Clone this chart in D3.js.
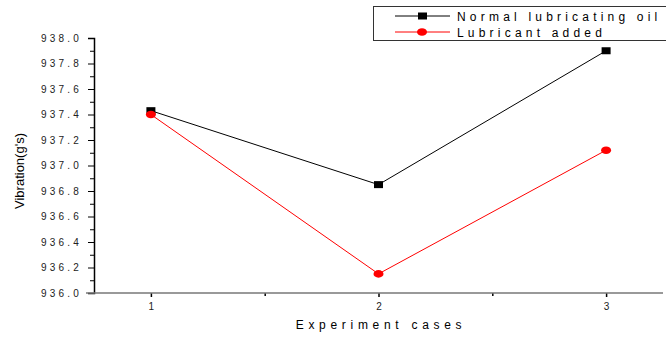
<!DOCTYPE html>
<html>
<head>
<meta charset="utf-8">
<script src="https://cdn.jsdelivr.net/npm/d3@7"></script>
<style>
  body { margin: 0; background: #fff; }
  text { font-family: "Liberation Sans", Arial, sans-serif; }
</style>
</head>
<body>
<div id="container"></div>
<script>
// data
const cases = [1, 2, 3];
const normalOil = [937.43, 936.85, 937.90];
const lubricantAdded = [937.40, 936.15, 937.12];
const yTicks = [936.0, 936.2, 936.4, 936.6, 936.8, 937.0, 937.2, 937.4, 937.6, 937.8, 938.0];
const seriesNames = ["Normal lubricating oil", "Lubricant added"];

const width = 666;
const height = 338;

const svg = d3
  .select("#container")
  .append("svg")
  .attr("width", width)
  .attr("height", height);

// scales
const xScale = d3.scaleLinear().domain([0.75, 3.25]).range([94, 663]);
const yScale = d3.scaleLinear().domain([936.0, 938.0]).range([293, 38]);

// y axis: major ticks with labels, minor ticks in between
const yAxis = d3
  .axisLeft(yScale)
  .tickValues(yTicks)
  .tickSize(6)
  .tickPadding(6)
  .tickFormat(d3.format(".1f"));

const yMinor = d3
  .axisLeft(yScale)
  .tickValues(d3.range(0, 20).map((i) => 936.1 + i * 0.2).filter((v) => v < 938))
  .tickSize(4)
  .tickFormat("");

const gy = svg.append("g").attr("transform", "translate(94,0)").call(yAxis);
gy.select(".domain").attr("stroke", "#000").attr("stroke-width", 1.5);
gy.selectAll(".tick line").attr("stroke", "#000");
gy.selectAll(".tick text")
  .attr("font-size", 10)
  .attr("letter-spacing", 3.2)
  .attr("fill", "#222");

const gyMinor = svg.append("g").attr("transform", "translate(94,0)").call(yMinor);
gyMinor.select(".domain").remove();

// x axis
const xAxis = d3
  .axisBottom(xScale)
  .tickValues(cases)
  .tickSize(4)
  .tickPadding(6)
  .tickFormat(d3.format("d"));

const xMinor = d3.axisBottom(xScale).tickValues([1.5, 2.5]).tickSize(3).tickFormat("");

const gx = svg.append("g").attr("transform", "translate(0,293)").call(xAxis);
gx.select(".domain").remove();
gx.selectAll(".tick line").attr("stroke", "#000").attr("stroke-width", 1.5);
gx.selectAll(".tick text").attr("font-size", 10).attr("fill", "#222");

const gxMinor = svg.append("g").attr("transform", "translate(0,293)").call(xMinor);
gxMinor.select(".domain").remove();
gxMinor.selectAll(".tick line").attr("stroke", "#000").attr("stroke-width", 1.5);

// gray baseline of x axis
svg
  .append("line")
  .attr("x1", 86)
  .attr("x2", 663)
  .attr("y1", yScale(936.0))
  .attr("y2", yScale(936.0))
  .attr("stroke", "#777")
  .attr("stroke-width", 1.5);

// axis titles
svg
  .append("text")
  .attr("x", 381)
  .attr("y", 329)
  .attr("text-anchor", "middle")
  .attr("font-size", 12)
  .attr("letter-spacing", 4.7)
  .text("Experiment cases");

svg
  .append("text")
  .attr("transform", `translate(24,171) rotate(-90)`)
  .attr("text-anchor", "middle")
  .attr("font-size", 13)
  .text("Vibration(g's)");

// lines and markers
const line = d3
  .line()
  .x((d, i) => xScale(cases[i]))
  .y((d) => yScale(d));

svg
  .append("path")
  .datum(normalOil)
  .attr("fill", "none")
  .attr("stroke", "#000")
  .attr("stroke-width", 1)
  .attr("d", line);

svg
  .append("path")
  .datum(lubricantAdded)
  .attr("fill", "none")
  .attr("stroke", "#ff0000")
  .attr("stroke-width", 1)
  .attr("d", line);

svg
  .selectAll(".sq")
  .data(normalOil)
  .enter()
  .append("rect")
  .attr("class", "sq")
  .attr("x", (d, i) => xScale(cases[i]) - 4.5)
  .attr("y", (d) => yScale(d) - 3.5)
  .attr("width", 9)
  .attr("height", 7)
  .attr("fill", "#000");

svg
  .selectAll(".dot")
  .data(lubricantAdded)
  .enter()
  .append("ellipse")
  .attr("class", "dot")
  .attr("cx", (d, i) => xScale(cases[i]))
  .attr("cy", (d) => yScale(d))
  .attr("rx", 5)
  .attr("ry", 3.8)
  .attr("fill", "#ff0000");

// legend
const legend = svg.append("g");
legend
  .append("rect")
  .attr("x", 373.5)
  .attr("y", 6.5)
  .attr("width", 300)
  .attr("height", 34)
  .attr("fill", "#fff")
  .attr("stroke", "#333")
  .attr("stroke-width", 1);

const legendRows = legend
  .selectAll(".row")
  .data(seriesNames)
  .enter()
  .append("g")
  .attr("class", "row")
  .attr("transform", (d, i) => `translate(0,${16 + i * 16})`);

legendRows
  .append("line")
  .attr("x1", 395)
  .attr("x2", 450)
  .attr("stroke", (d, i) => (i === 0 ? "#000" : "#ff0000"))
  .attr("stroke-width", 1);

legendRows
  .filter((d, i) => i === 0)
  .append("rect")
  .attr("x", 418)
  .attr("y", -3.5)
  .attr("width", 9)
  .attr("height", 7)
  .attr("fill", "#000");

legendRows
  .filter((d, i) => i === 1)
  .append("ellipse")
  .attr("cx", 422)
  .attr("cy", 0)
  .attr("rx", 5)
  .attr("ry", 3.8)
  .attr("fill", "#ff0000");

legendRows
  .append("text")
  .attr("x", 457)
  .attr("y", 4.5)
  .attr("font-size", 12)
  .attr("letter-spacing", 4.2)
  .text((d) => d);
</script>
</body>
</html>
